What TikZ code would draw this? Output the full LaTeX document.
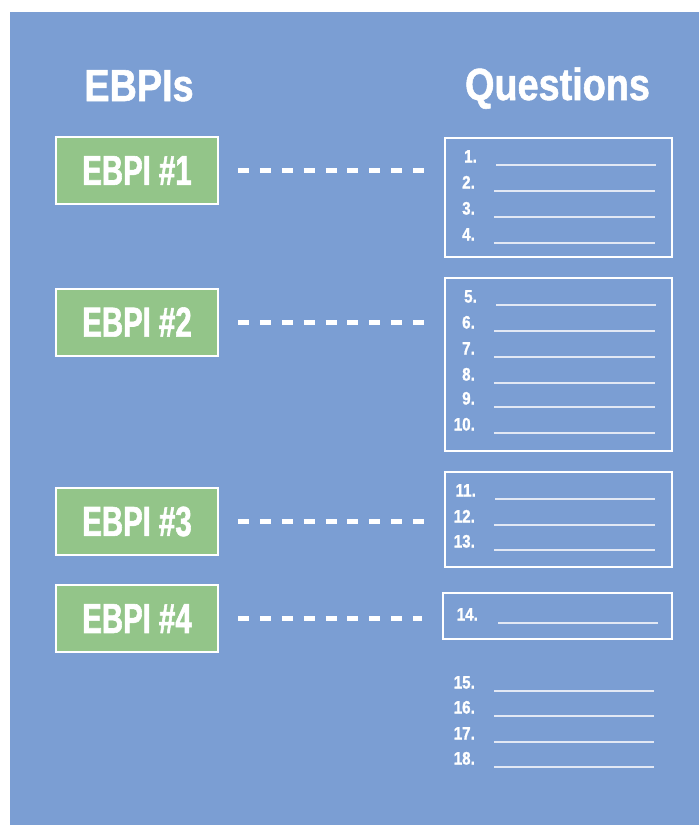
\documentclass[tikz,border=0pt]{standalone}
\usepackage{fontspec}
\setmainfont{Liberation Sans}
\newfontfamily\headfont{Liberation Sans}[FakeStretch=0.84, BoldFeatures={RawFeature={embolden=1.2}}]
\newfontfamily\boxfont{Liberation Sans}[FakeStretch=0.70, BoldFeatures={RawFeature={embolden=1.4}}]
\definecolor{panelblue}{HTML}{7B9ED3}
\definecolor{ebpigreen}{HTML}{93C589}
\definecolor{rulegray}{HTML}{E2E8F4}
\tikzset{
  heading/.style={text=white, font=\headfont\bfseries\fontsize{45}{50}\selectfont, inner sep=0pt},
  ebpibox/.style={draw=white, line width=2pt, fill=ebpigreen, minimum width=162pt, minimum height=67pt,
    text=white, font=\boxfont\bfseries\fontsize{42}{46}\selectfont, inner sep=0pt},
  qbox/.style={draw=white, line width=2.5pt, inner sep=0pt},
  num/.style={text=white, font=\headfont\bfseries\fontsize{18}{20}\selectfont, inner sep=0pt, anchor=base east},
  answer/.style={draw=rulegray, line width=1.2pt},
  link/.style={draw=white, line width=5pt, dash pattern=on 11pt off 10.875pt, shorten <=19pt, shorten >=20pt}
}
\begin{document}
\begin{tikzpicture}[x=1pt, y=-1pt]
  \useasboundingbox (0,0) rectangle (699,825);
  \fill[panelblue] (10,12) rectangle (699,825);

  % column headings
  \node[heading, anchor=base] (hleft) at (139,101) {EBPIs};
  \node[heading, anchor=base] (hright) at (557.5,100) {Questions};

  % EBPI boxes
  \node[ebpibox] (e1) at (137,170.5) {EBPI \#1};
  \node[ebpibox] (e2) at (137,322) {EBPI \#2};
  \node[ebpibox] (e3) at (137,521.5) {EBPI \#3};
  \node[ebpibox] (e4) at (137,618.5) {EBPI \#4};

  % question groups
  \node[qbox, minimum width=227pt, minimum height=119pt] (q1) at (558.5,197.5) {};
  \node[qbox, minimum width=227pt, minimum height=173pt] (q2) at (558.5,364.5) {};
  \node[qbox, minimum width=227pt, minimum height=95pt] (q3) at (558.5,519.5) {};
  \node[qbox, minimum width=229pt, minimum height=46pt] (q4) at (557.5,616) {};

  % numbered answer lines
  \foreach \n/\y/\xa/\xb/\xr in {
      1/165/496/656/477, 2/191/494/655/475, 3/217/494/655/475, 4/243/494/655/475,
      5/305/496/656/477, 6/331/494/655/475, 7/357/494/655/475, 8/383/494/655/475,
      9/407/494/655/475, 10/433/494/655/475,
      11/499/495/655/476, 12/525/494/655/475, 13/550/494/655/475,
      14/623/498/658/478,
      15/691/494/654/475, 16/716/494/654/475, 17/742/494/654/475, 18/767/494/654/475} {
    \node[num] (n\n) at (\xr,\y-2.5) {\n.};
    \draw[answer] (\xa,\y) -- (\xb,\y);
  }

  % dashed links from each EBPI to its question group
  \draw[link] (e1.east) -- (e1.east -| q1.west);
  \draw[link] (e2.east) -- (e2.east -| q2.west);
  \draw[link] (e3.east) -- (e3.east -| q3.west);
  \draw[link] (e4.east) -- (e4.east -| q4.west);
\end{tikzpicture}
\end{document}
